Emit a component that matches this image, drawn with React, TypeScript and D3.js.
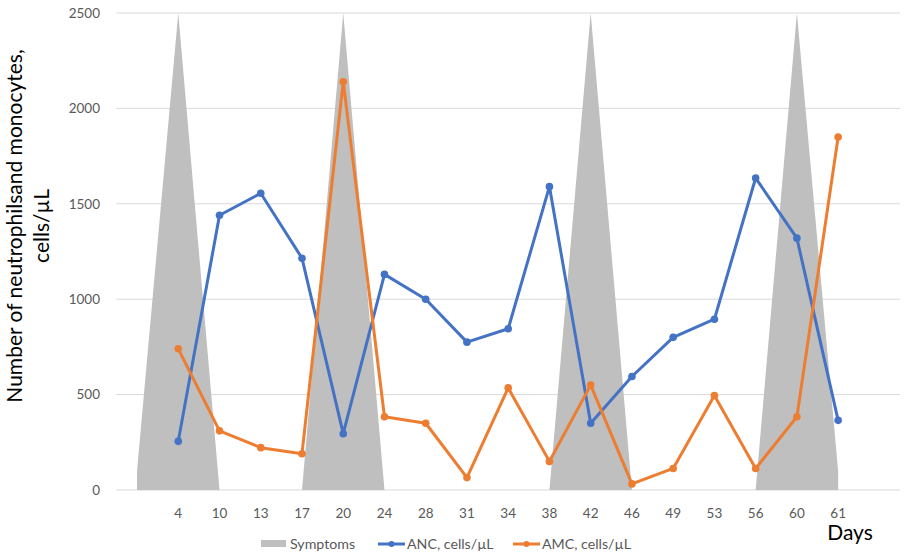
import React from "react";
import { scaleLinear, scalePoint, line, area } from "d3";

// x categories: leading blank, the days, trailing blank
const days = ["4", "10", "13", "17", "20", "24", "28", "31", "34", "38", "42", "46", "49", "53", "56", "60", "61"];
const categories = ["lead", ...days, "tail"];

const symptoms = [100, 2500, 0, 0, 0, 2500, 0, 0, 0, 0, 0, 2500, 0, 0, 0, 0, 2500, 100];
const anc = [255, 1440, 1555, 1215, 295, 1130, 1000, 775, 845, 1590, 350, 595, 800, 895, 1635, 1320, 365];
const amc = [740, 310, 222, 190, 2140, 384, 350, 65, 535, 150, 550, 32, 113, 495, 113, 384, 1850];

const yTicks = [0, 500, 1000, 1500, 2000, 2500];

const FONT = "Lato, 'Open Sans', sans-serif";
const BLUE = "#4472C4";
const ORANGE = "#ED7D31";
const GRAY = "#BFBFBF";

export default function App(): JSX.Element {
  const width = 904;
  const height = 560;
  const plotLeft = 116.4;
  const plotRight = 900;
  const plotTop = 13;
  const plotBottom = 490;

  const x = scalePoint<string>().domain(categories).range([plotLeft, plotRight]).padding(0.5);
  const y = scaleLinear().domain([0, 2500]).range([plotBottom, plotTop]);

  const symKeys = ["lead", ...days];
  const symArea = area<number>()
    .x((_, i) => x(symKeys[i]) ?? 0)
    .y0(y(0))
    .y1((d) => y(d));

  const seriesLine = line<number>()
    .x((_, i) => x(days[i]) ?? 0)
    .y((d) => y(d));

  return (
    <div style={{ position: "fixed", left: 0, top: 0 }}>
      <svg width={width} height={height} style={{ display: "block", background: "#fff" }}>
        {/* Grid */}
        {yTicks.map((t) => (
          <g key={`g-${t}`}>
            <line x1={plotLeft} x2={plotRight} y1={y(t)} y2={y(t)} stroke="#D9D9D9" strokeWidth={1} />
            <text
              x={100}
              y={y(t)}
              dy="0.35em"
              textAnchor="end"
              fontFamily={FONT}
              fontSize={13.5}
              fill="#595959"
            >
              {t}
            </text>
          </g>
        ))}

        {/* Symptoms area */}
        <path d={symArea(symptoms) ?? ""} fill={GRAY} />

        {/* ANC */}
        <path d={seriesLine(anc) ?? ""} fill="none" stroke={BLUE} strokeWidth={3} strokeLinejoin="round" />
        {anc.map((v, i) => (
          <circle key={`anc-${i}`} cx={x(days[i])} cy={y(v)} r={3.8} fill={BLUE} />
        ))}

        {/* AMC */}
        <path d={seriesLine(amc) ?? ""} fill="none" stroke={ORANGE} strokeWidth={3} strokeLinejoin="round" />
        {amc.map((v, i) => (
          <circle key={`amc-${i}`} cx={x(days[i])} cy={y(v)} r={3.8} fill={ORANGE} />
        ))}

        {/* X labels */}
        {days.map((d) => (
          <text
            key={`x-${d}`}
            x={x(d)}
            y={513}
            dy="0.35em"
            textAnchor="middle"
            fontFamily={FONT}
            fontSize={13.5}
            fill="#595959"
          >
            {d}
          </text>
        ))}

        <text x={850} y={540} textAnchor="middle" fontFamily={FONT} fontSize={21} fill="#000">
          Days
        </text>

        {/* Y title */}
        <g transform="translate(0,226) rotate(-90)">
          <text x={0} y={22} textAnchor="middle" fontFamily={FONT} fontSize={21} fill="#000">
            Number of neutrophilsand monocytes,
          </text>
          <text x={0} y={49} textAnchor="middle" fontFamily={FONT} fontSize={21} fill="#000">
            cells/µL
          </text>
        </g>

        {/* Legend */}
        <rect x={261} y={540} width={25} height={7} fill={GRAY} />
        <text x={290} y={544} dy="0.35em" fontFamily={FONT} fontSize={14.2} fill="#595959">
          Symptoms
        </text>
        <line x1={378} x2={405} y1={544} y2={544} stroke={BLUE} strokeWidth={3} />
        <circle cx={391.5} cy={544} r={3} fill={BLUE} />
        <text x={407} y={544} dy="0.35em" fontFamily={FONT} fontSize={14.2} fill="#595959">
          ANC, cells/µL
        </text>
        <line x1={513} x2={540} y1={544} y2={544} stroke={ORANGE} strokeWidth={3} />
        <circle cx={526.5} cy={544} r={3} fill={ORANGE} />
        <text x={542} y={544} dy="0.35em" fontFamily={FONT} fontSize={14.2} fill="#595959">
          AMC, cells/µL
        </text>
      </svg>
    </div>
  );
}
